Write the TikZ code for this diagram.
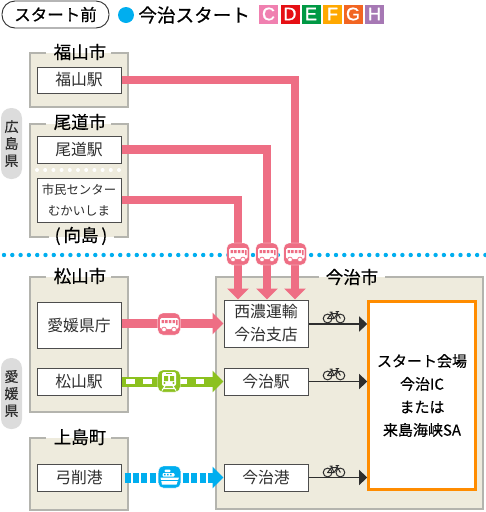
\documentclass[tikz,border=0pt]{standalone}
\usepackage{fontspec}
\setmainfont{Noto Sans CJK JP}
\newfontfamily\futofont{Noto Sans CJK JP}[FakeBold=0.5]
\newfontfamily\ranfont{Liberation Sans}[FakeBold=1]
\usetikzlibrary{arrows.meta,positioning,calc}
\definecolor{basuiro}{HTML}{EE6E84}
\definecolor{tetsuiro}{HTML}{8CC11F}
\definecolor{funeiro}{HTML}{00AEEF}
\definecolor{ku}{HTML}{EEEBDD}
\definecolor{waku}{HTML}{B4B4AE}
\definecolor{hai}{HTML}{DCDCDC}
\definecolor{moji}{HTML}{2E2E2E}
\definecolor{ranC}{HTML}{F080B0}
\definecolor{ranD}{HTML}{E60F14}
\definecolor{ranE}{HTML}{009944}
\definecolor{ranF}{HTML}{FFA800}
\definecolor{ranG}{HTML}{F26522}
\definecolor{ranH}{HTML}{A678B4}
\newcommand{\fsz}[2]{\fontsize{#1}{#2}\selectfont}
\tikzset{
  kuhal/.style={draw=waku,line width=1.5pt},
  ekidob/.style={draw=moji!85,fill=white,line width=1pt,minimum width=84pt,align=center,inner sep=0pt,text=moji,font=\fsz{15.8}{21}},
  midasi/.style={inner sep=0pt,font=\futofont\fsz{17.5}{20}},
  kenpill/.style={fill=hai,rounded corners=10pt,minimum width=21pt,align=center,inner sep=0pt,text=moji,font=\futofont\fsz{14}{17}},
  ran/.style={minimum size=19pt,inner sep=0pt,text=white,font=\ranfont\fsz{18}{18}},
  ikon/.style={minimum width=22.5pt,minimum height=22pt,inner sep=0pt,rounded corners=5pt,draw=white,line width=.4pt},
  basusen/.style={basuiro,line width=8.8pt,-{Triangle[length=11pt,width=21pt]}},
  tetsusen/.style={tetsuiro,line width=10pt,-{Triangle[length=11pt,width=21pt]}},
  funesen/.style={funeiro,line width=10pt,dash pattern=on 6pt off 2.35pt,-{Triangle[length=11pt,width=21pt]},shorten <=3pt},
  jitensen/.style={draw=moji,line width=1.3pt,-{Triangle[length=8pt,width=15pt]}},
  basuzu/.pic={
    \fill[white,rounded corners=1.6pt] (-9,-6) rectangle (9.5,5);
    \fill[basuiro] (-7.5,-4) rectangle (-5,-1) (-3.8,-4) rectangle (-1.3,-1) (-.1,-4) rectangle (2.4,-1) (3.6,-4) rectangle (6,-1) (7,-4) rectangle (8.6,1);
    \fill[white,draw=basuiro,line width=.7pt] (-5,5.5) circle (2.4) (5,5.5) circle (2.4);
  },
  tetsuzu/.pic={
    \fill[white,rounded corners=2pt] (-7,-9) rectangle (7,5);
    \fill[tetsuiro] (-5,-5) rectangle (-1,0) (1,-5) rectangle (5,0);
    \fill[tetsuiro] (-3,-8) rectangle (3,-6.6);
    \fill[tetsuiro] (-4.5,2) circle (1.1) (4.5,2) circle (1.1);
    \draw[white,line width=1.1pt] (-4,5) -- (-7,9.5) (4,5) -- (7,9.5) (-5,7.5) -- (5,7.5);
  },
  funezu/.pic={
    \fill[white] (-9,.5) -- (9.5,.5) -- (7,7.5) -- (-7.5,7.5) -- cycle;
    \fill[funeiro] (-9,3.2) rectangle (9,4.2);
    \fill[white,rounded corners=1pt] (-7,-.5) rectangle (5,-4);
    \fill[white,rounded corners=1pt] (-5,-4.8) rectangle (1,-7.5);
    \fill[funeiro] (-5.5,-3.2) rectangle (-3.8,-1.6) (-2.5,-3.2) rectangle (-.8,-1.6) (.5,-3.2) rectangle (2.2,-1.6);
  },
  jitenzu/.pic={
    \draw[moji,line width=1pt] (-6.4,0) circle (4.4) (6.4,0) circle (4.4);
    \draw[moji,line width=1pt,line join=round] (-6.4,0) -- (-2.5,-5) -- (3.5,-5) -- (0,0) -- cycle (3.5,-5) -- (6.4,0) (2.8,-7) -- (3.5,-5) (1.5,-7) -- (5,-7) (-3,-6.5) -- (0,0) (-4.5,-6.5) -- (-1.5,-6.5);
  },
}
\begin{document}
\begin{tikzpicture}[x=1pt,y=-1pt]
  \useasboundingbox (0,0) rectangle (486,512);
  % hanrei
  \node[draw=moji,line width=.9pt,rounded corners=13pt,minimum width=107pt,minimum height=27pt,inner sep=0pt,font=\futofont\fsz{16.5}{18}] (maenode) at (55.5,14.5) {スタート前};
  \node[circle,fill=funeiro,minimum size=16pt,inner sep=0pt] (maru) at (126,15) {};
  \node[right=4pt of maru,inner sep=0pt,font=\futofont\fsz{18.6}{20}] (imabaristart) {今治スタート};
  \node[ran,fill=ranC] (ranc) at (268.5,14) {C};
  \node[ran,fill=ranD] (rand) at (290,14) {D};
  \node[ran,fill=ranE] (rane) at (311,14) {E};
  \node[ran,fill=ranF] (ranf) at (332.5,14) {F};
  \node[ran,fill=ranG] (rang) at (353,14) {G};
  \node[ran,fill=ranH] (ranh) at (374.5,14) {H};
  % kuiki (ue)
  \fill[ku] (30,53) rectangle (128,107);
  \draw[kuhal] (111,53) -| (128,107) -| (30,53) -- (46,53);
  \fill[ku] (30,124) rectangle (128,237);
  \draw[kuhal] (111,124) -| (128,237) -- (114,237);
  \draw[kuhal] (46,124) -| (30,237) -- (49,237);
  \draw[white,line width=4pt,line cap=round,dash pattern=on 0pt off 8.2pt] (37,170) -- (125,170);
  \node[midasi] (fukuyamasi) at (80,52) {福山市};
  \node[midasi] (onomitisi) at (80,122) {尾道市};
  \node[midasi] (mukaisima) at (81,236) {(\,向島\,)};
  \node[ekidob,minimum height=26pt] (fukuyamaeki) at (79,80) {福山駅};
  \node[ekidob,minimum height=27pt] (onomitieki) at (79,149.5) {尾道駅};
  \node[ekidob,minimum height=44pt,font=\fsz{12.4}{21}] (simin) at (79,200) {市民センター\\むかいしま};
  \node[kenpill,minimum height=71pt] (hirosima) at (11.5,143.5) {広\\島\\県};
  % sakaisen
  \draw[funeiro,line width=4.4pt,line cap=round,dash pattern=on 0pt off 8.3pt] (4,255) -- (486,255);
  % kuiki (sita)
  \fill[ku] (30,277) rectangle (128,412);
  \draw[kuhal] (111,277) -| (128,412) -| (30,277) -- (46,277);
  \fill[ku] (30,438) rectangle (128,510);
  \draw[kuhal] (111,438) -| (128,510) -| (30,438) -- (46,438);
  \fill[ku] (216,277) rectangle (483,509);
  \draw[kuhal] (385,277) -| (483,509) -| (216,277) -- (319,277);
  \node[midasi] (matuyamasi) at (80,276) {松山市};
  \node[midasi] (kamijima) at (80,437) {上島町};
  \node[midasi] (imabarisi) at (352,277) {今治市};
  \node[kenpill,minimum height=71pt] (ehime) at (11.5,393.5) {愛\\媛\\県};
  \node[ekidob,minimum height=46pt] (kencho) at (79,325) {愛媛県庁};
  \node[ekidob,minimum height=27pt] (matuyamaeki) at (79,381.5) {松山駅};
  \node[ekidob,minimum height=27pt] (yugeko) at (79,477.5) {弓削港};
  \node[ekidob,minimum height=47pt,font=\fsz{15.8}{23}] (seino) at (266,323.5) {西濃運輸\\今治支店};
  \node[ekidob,minimum height=27pt] (imabarieki) at (266,381.5) {今治駅};
  \node[ekidob,minimum height=27pt] (imabariko) at (266,477.5) {今治港};
  \node[draw=orange!90!yellow,fill=white,line width=2.6pt,minimum width=107pt,minimum height=188pt,inner sep=0pt,align=center,font=\futofont\fsz{15}{23}] (kaijo) at (422,395.5) {スタート会場\\今治IC\\または\\来島海峡SA};
  % basu
  \coordinate (basua) at (238,254);
  \coordinate (basub) at (267,254);
  \coordinate (basuc) at (295,254);
  \draw[basusen] (fukuyamaeki.east) -| (basuc |- seino.north);
  \draw[basusen] (onomitieki.east) -| (basub |- seino.north);
  \draw[basusen] (simin.east) -| (basua |- seino.north);
  \draw[basusen] (kencho.east |- seino.west) -- (seino.west);
  \node[ikon,fill=basuiro] (ikona) at (basua) {};
  \node[ikon,fill=basuiro] (ikonb) at (basub) {};
  \node[ikon,fill=basuiro] (ikonc) at (basuc) {};
  \node[ikon,fill=basuiro] (ikond) at (169,324) {};
  \pic at (ikona) {basuzu};
  \pic at (ikonb) {basuzu};
  \pic at (ikonc) {basuzu};
  \pic at (ikond) {basuzu};
  % tetsudo, fune
  \draw[tetsusen] (matuyamaeki.east) -- (imabarieki.west);
  \draw[white,line width=4.5pt,dash pattern=on 8.5pt off 8.9pt] (126,381.5) -- (205,381.5);
  \node[ikon,fill=tetsuiro] (ikone) at (169,381) {};
  \pic at (ikone) {tetsuzu};
  \draw[funesen] (yugeko.east) -- (imabariko.west);
  \node[ikon,fill=funeiro] (ikonf) at (169.5,477) {};
  \pic at (ikonf) {funezu};
  % jitensha
  \draw[jitensen] (seino.east |- 0,324) -- (kaijo.west |- 0,324);
  \draw[jitensen] (imabarieki.east) -- (imabarieki.east -| kaijo.west);
  \draw[jitensen] (imabariko.east) -- (imabariko.east -| kaijo.west);
  \pic at (334,318.5) {jitenzu};
  \pic at (334,375.5) {jitenzu};
  \pic at (334,472.5) {jitenzu};
\end{tikzpicture}
\end{document}
